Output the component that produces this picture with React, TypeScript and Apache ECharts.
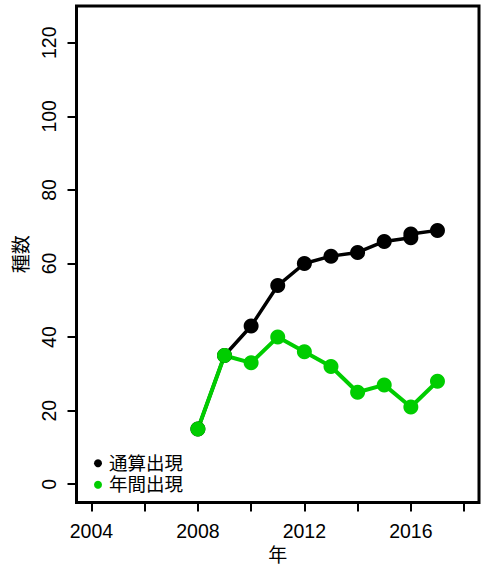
import React, { useEffect, useRef } from "react";
import * as echarts from "echarts";

const cumulativeYears = [2008, 2009, 2010, 2011, 2012, 2013, 2014, 2015, 2016, 2016, 2017];
const cumulativeValues = [15, 35, 43, 54, 60, 62, 63, 66, 67, 68, 69];
const annualYears = [2008, 2009, 2010, 2011, 2012, 2013, 2014, 2015, 2016, 2017];
const annualValues = [15, 35, 33, 40, 36, 32, 25, 27, 21, 28];
const xTicks = [2004, 2006, 2008, 2010, 2012, 2014, 2016, 2018];
const xLabels = [2004, 2008, 2012, 2016];
const yTicks = [0, 20, 40, 60, 80, 100, 120];
const seriesNames = ["通算出現", "年間出現"];
const xTitle = "年";
const yTitle = "種数";

const FONT = "'Liberation Sans', 'Noto Sans CJK JP', sans-serif";

export default function App() {
  const ref = useRef<HTMLDivElement>(null);
  useEffect(() => {
    if (!ref.current) return;
    const chart = echarts.init(ref.current, null, { renderer: "svg" });
    chart.setOption({
      animation: false,
      backgroundColor: "#fff",
      grid: {
        left: 76.5,
        right: 9,
        top: 6,
        bottom: 67,
        show: true,
        borderColor: "#000",
        borderWidth: 3,
        containLabel: false,
      },
      legend: {
        orient: "vertical",
        left: 89,
        top: 449,
        itemWidth: 8,
        itemHeight: 8,
        itemGap: 3,
        icon: "circle",
        textStyle: { fontSize: 18.5, fontFamily: FONT, color: "#000", lineHeight: 18.5, padding: [0, 0, 0, 2] },
        data: seriesNames,
      },
      xAxis: {
        type: "value",
        min: 2003.44,
        max: 2018.56,
        name: xTitle,
        nameLocation: "middle",
        nameGap: 40,
        nameTextStyle: { fontSize: 19, fontFamily: FONT, color: "#000" },
        axisLine: { show: false, onZero: false },
        splitLine: { show: false },
        axisTick: {
          show: true,
          length: 9,
          lineStyle: { color: "#000", width: 2 },
          customValues: xTicks,
        },
        axisLabel: {
          fontSize: 19.5,
          fontFamily: FONT,
          color: "#000",
          margin: 19,
          customValues: xLabels,
          formatter: (v: number) => String(v),
        },
      },
      yAxis: {
        type: "value",
        min: -5,
        max: 130,
        name: yTitle,
        nameLocation: "middle",
        nameGap: 36,
        nameTextStyle: { fontSize: 19, fontFamily: FONT, color: "#000" },
        axisLine: { show: false, onZero: false },
        splitLine: { show: false },
        axisTick: {
          show: true,
          length: 9,
          lineStyle: { color: "#000", width: 2 },
          customValues: yTicks,
        },
        axisLabel: {
          fontSize: 19.5,
          fontFamily: FONT,
          color: "#000",
          rotate: 90,
          margin: 18,
          customValues: yTicks,
          formatter: (v: number) => String(v),
        },
      },
      series: [
        {
          name: seriesNames[0],
          type: "line",
          data: cumulativeYears.map((y, i) => [y, cumulativeValues[i]]),
          symbol: "circle",
          symbolSize: 15,
          color: "#000",
          lineStyle: { color: "#000", width: 3.5 },
          itemStyle: { color: "#000" },
        },
        {
          name: seriesNames[1],
          type: "line",
          data: annualYears.map((y, i) => [y, annualValues[i]]),
          symbol: "circle",
          symbolSize: 15,
          color: "#00CD00",
          lineStyle: { color: "#00CD00", width: 4 },
          itemStyle: { color: "#00CD00" },
        },
      ],
    });
    return () => chart.dispose();
  }, []);
  return (
    <div
      ref={ref}
      style={{ position: "fixed", left: 0, top: 0, width: 488, height: 570 }}
    />
  );
}
